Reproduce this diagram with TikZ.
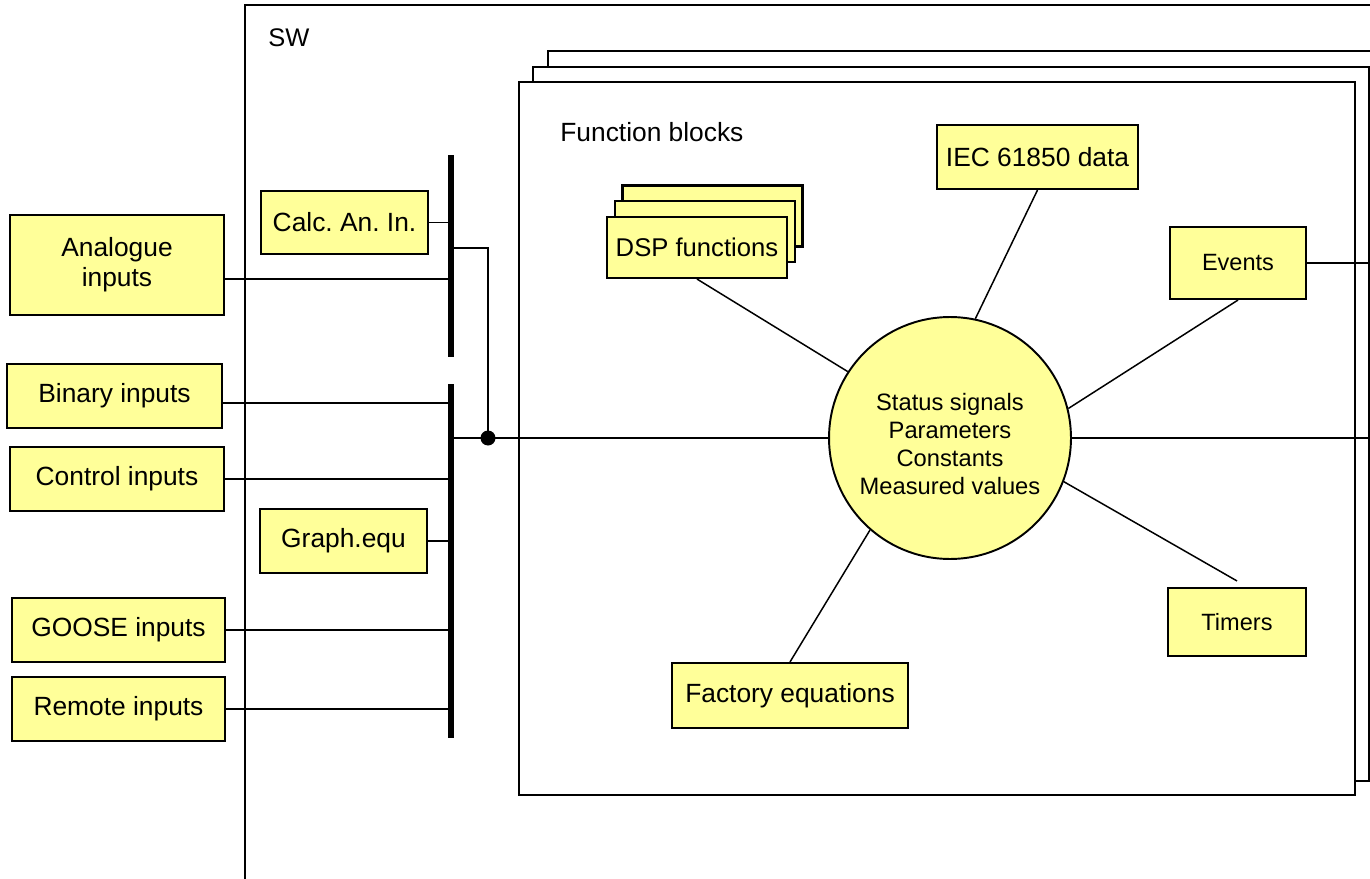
\documentclass[tikz,border=0pt]{standalone}
\usepackage{fontspec}
\setmainfont{Liberation Sans}
\definecolor{boxyellow}{RGB}{255,255,153}
\begin{document}
\frenchspacing
\begin{tikzpicture}[x=0.02cm,y=-0.02cm,
  box/.style={draw=black, fill=boxyellow, line width=1.2pt, inner sep=0pt, align=center, font=\fontsize{15}{17}\selectfont},
  sbox/.style={box, font=\fontsize{13.4}{16}\selectfont},
  wire/.style={line width=0.85pt},
  fbrect/.style={draw=black, fill=white, line width=1.1pt},
  busbar/.style={line width=2.9pt},
  lbl/.style={anchor=west, inner sep=0pt, font=\fontsize{15}{17}\selectfont}]
\clip (0,0) rectangle (1370,879);
\fill[white] (0,0) rectangle (1370,879);

% SW frame
\draw[wire] (245,900) -- (245,5) -- (1400,5);
\node[lbl, font=\fontsize{14.5}{17}\selectfont] (sw) at (268,38) {SW};

% stacked function block frames
\draw[fbrect] (548,51) rectangle (1384,766);
\draw[fbrect] (533,67) rectangle (1369,781);
\draw[fbrect] (519,82) rectangle (1355,795);
\node[lbl] (fb) at (560,132) {Function blocks};

% input boxes
\node[box, minimum width=4.28cm, minimum height=2.0cm] (ana) at (117,265) {Analogue\\inputs};
\node[box, minimum width=4.3cm, minimum height=1.28cm] (bin) at (114.5,396) {Binary inputs};
\node[box, minimum width=4.28cm, minimum height=1.28cm] (ctl) at (117,479) {Control inputs};
\node[box, minimum width=4.26cm, minimum height=1.28cm] (goo) at (118.5,630) {GOOSE inputs};
\node[box, minimum width=4.26cm, minimum height=1.28cm] (rem) at (118.5,709) {Remote inputs};

\node[box, minimum width=3.34cm, minimum height=1.26cm] (calc) at (344.5,222.5) {Calc. An. In.};
\node[box, minimum width=3.34cm, minimum height=1.28cm] (graph) at (343.5,541) {Graph.equ};

% function block contents
\node[box, minimum width=3.6cm, minimum height=1.22cm] (dsp3) at (712.5,216) {};
\node[box, minimum width=3.6cm, minimum height=1.22cm] (dsp2) at (705,231.5) {};
\node[box, minimum width=3.6cm, minimum height=1.22cm, font=\fontsize{14.6}{17}\selectfont] (dsp) at (697,247.5) {DSP functions};
\node[box, minimum width=4.02cm, minimum height=1.28cm] (iec) at (1037.5,157) {IEC 61850 data};
\node[sbox, minimum width=2.72cm, minimum height=1.44cm] (ev) at (1238,263) {Events};
\node[sbox, minimum width=2.76cm, minimum height=1.36cm] (tim) at (1237,622) {Timers};
\node[box, minimum width=4.72cm, minimum height=1.3cm] (fact) at (790,695.5) {Factory equations};

\node[circle, draw=black, fill=boxyellow, line width=1.1pt, minimum size=4.84cm, inner sep=0pt] (c) at (950,438) {};
\node[align=center, inner sep=0pt, font=\fontsize{13.5}{15.9}\selectfont] (ct) at (950,444) {Status signals\\Parameters\\Constants\\Measured values};

% bus bars
\coordinate (b1t) at (451,155);
\coordinate (b1b) at (451,357);
\coordinate (b2t) at (451,384);
\coordinate (b2b) at (451,738);
\draw[busbar] (b1t) -- (b1b);
\draw[busbar] (b2t) -- (b2b);

% connections to buses
\coordinate (anaout) at ([yshift=-0.28cm]ana.east);
\draw[wire] (anaout) -- (anaout -| b1t);
\draw[wire] (calc.east) -- (calc.east -| b1t);
\coordinate (binout) at ([yshift=-0.14cm]bin.east);
\draw[wire] (binout) -- (binout -| b2t);
\draw[wire] (ctl.east) -- (ctl.east -| b2t);
\draw[wire] (graph.east) -- (graph.east -| b2t);
\draw[wire] (goo.east) -- (goo.east -| b2t);
\draw[wire] (rem.east) -- (rem.east -| b2t);

% junction
\coordinate (j1) at (451,248);
\coordinate (dot) at (488,438);
\draw[wire] (j1) -- (j1 -| dot) -- (dot);
\draw[wire] (c.west -| b2t) -- (c.west);
\fill (dot) circle (0.15cm);

% right side outputs
\coordinate (rend) at (1400,438);
\draw[wire] (c.east) -- (rend);
\draw[wire] (ev.east) -- (ev.east -| rend);

% spokes
\draw[wire] (dsp.south) -- (c.147);
\draw[wire] (iec.south) -- (c.78);
\draw[wire] (ev.south) -- (c.14);
\draw[wire] ([yshift=0.12cm]tim.north) -- (c.-21);
\draw[wire] (fact.north) -- (c.-131);
\end{tikzpicture}
\end{document}
